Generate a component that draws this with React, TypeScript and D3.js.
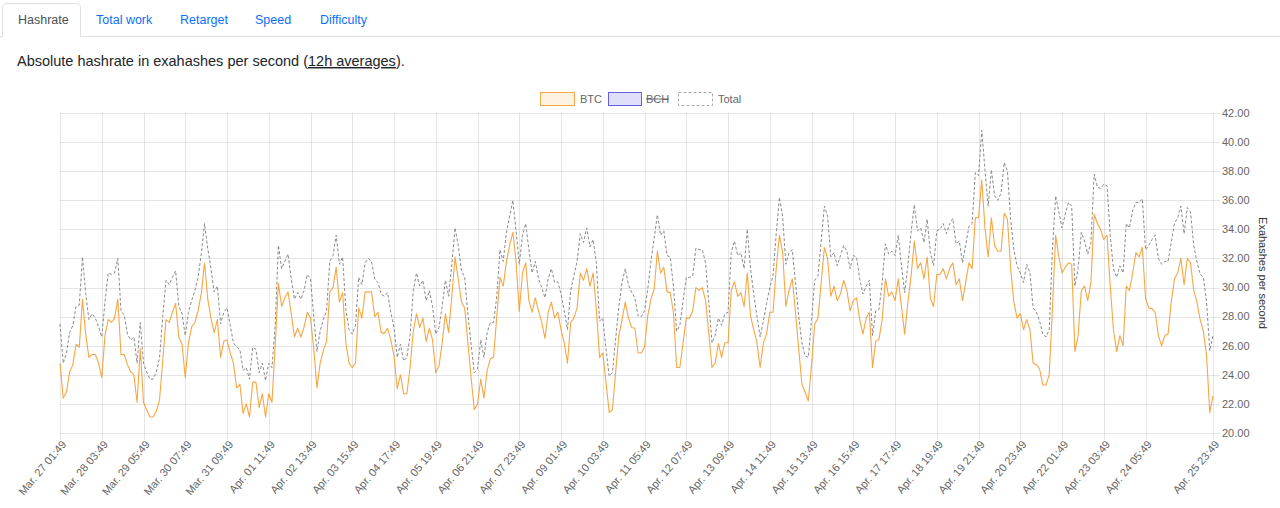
import * as d3 from 'd3';

// 12h averaged hashrate, one value every 2 hours (EH/s)
const btc = [
  24.8, 22.4, 22.8, 24.2, 24.7, 26.1, 25.9, 29.2, 26.8, 25.2, 25.4, 25.4, 24.8, 23.8, 26.7, 27.8, 27.6, 27.9, 29.2, 25.4, 25.4, 24.7, 24.2, 24.0, 22.1, 25.8, 22.1, 21.6, 21.1, 21.1, 21.5, 22.3,
  25.0, 27.8, 27.6, 28.3, 28.9, 26.6, 26.1, 23.8, 26.2, 27.3, 27.6, 28.4, 29.6, 31.7, 29.2, 27.9, 26.9, 27.8, 25.2, 26.3, 26.4, 25.5, 24.8, 23.1, 23.35, 21.35, 22.0, 21.1, 23.5, 23.5, 21.75, 22.7,
  21.1, 22.7, 22.1, 26.0, 30.3, 28.7, 29.3, 29.7, 28.2, 26.6, 27.2, 26.6, 27.3, 28.3, 27.9, 25.8, 23.1, 24.8, 25.7, 26.3, 29.7, 30.0, 31.4, 29.0, 29.65, 26.2, 24.8, 24.5, 24.8, 28.6, 27.9, 29.7, 29.7,
  29.7, 28.0, 28.3, 26.9, 26.85, 27.2, 26.4, 25.3, 23.05, 24.0, 22.7, 22.7, 24.5, 27.0, 28.2, 27.25, 27.9, 26.3, 27.2, 26.4, 24.15, 24.6, 26.2, 28.2, 26.9, 29.4, 32.1, 30.6, 29.0, 28.6, 26.2, 23.8, 21.6,
  22.0, 23.7, 22.4, 24.3, 25.1, 25.2, 28.05, 30.7, 30.1, 31.8, 32.9, 33.8, 31.8, 28.35, 31.0, 31.7, 29.1, 28.3, 29.3, 28.4, 27.6, 26.5, 28.3, 29.0, 27.9, 28.3, 27.1, 26.2, 24.8, 27.6, 27.9, 28.6,
  31.0, 30.5, 31.3, 30.1, 31.0, 28.5, 25.2, 25.5, 23.5, 21.4, 21.6, 24.15, 26.7, 27.8, 29.0, 27.9, 27.25, 27.2, 25.5, 25.5, 25.9, 28.05, 29.2, 29.9, 32.5, 31.0, 31.4, 29.7, 29.65, 28.3, 24.5, 24.5, 26.2,
  27.9, 27.9, 28.4, 30.0, 29.8, 30.0, 29.1, 26.9, 24.5, 24.8, 26.15, 25.2, 26.2, 26.2, 29.8, 30.4, 29.4, 29.65, 28.7, 31.0, 28.05, 27.1, 26.2, 24.5, 26.2, 26.8, 28.3, 28.3, 31.3, 33.6, 32.4, 28.7, 29.8,
  30.6, 28.3, 25.8, 23.35, 22.8, 22.2, 24.7, 27.5, 27.9, 30.35, 32.75, 32.0, 29.4, 30.1, 29.1, 29.55, 30.5, 29.8, 28.4, 29.1, 29.3, 27.8, 26.8, 27.9, 28.3, 24.5, 26.3, 26.45, 27.8, 30.6, 29.4, 29.7, 29.1,
  30.6, 28.7, 26.8, 29.0, 30.8, 33.2, 31.3, 31.7, 30.6, 32.1, 29.25, 28.7, 30.9, 30.9, 31.3, 30.6, 31.3, 31.7, 30.2, 30.6, 29.1, 30.35, 31.7, 31.3, 34.8, 34.8, 37.4, 34.1, 32.1, 34.8, 32.9, 32.5,
  32.5, 35.1, 34.7, 31.3, 29.0, 27.9, 28.2, 27.1, 27.8, 27.1, 24.8, 24.7, 24.4, 23.3, 23.3, 24.0, 28.5, 33.6, 32.1, 31.0, 31.4, 31.7, 31.6, 25.6, 26.7, 29.8, 30.1, 29.1, 30.35, 35.05, 34.4, 34.0, 33.3, 33.6,
  30.1, 27.1, 25.6, 26.7, 26.0, 30.1, 29.8, 31.0, 32.4, 32.1, 32.75, 29.25, 28.6, 28.55, 28.3, 26.7, 26.0, 26.7, 26.8, 29.0, 30.6, 31.0, 32.0, 30.2, 32.0, 31.7, 29.8, 29.0, 27.8, 27.0, 25.3, 21.4, 22.55,
];

const total = [
  27.5, 24.8, 25.5, 26.9, 27.4, 28.7, 28.8, 32.1, 29.6, 27.8, 28.2, 27.9, 27.3, 26.6, 29.0, 31.0, 30.9, 31.0, 32.0, 28.4, 28.1, 26.8, 26.4, 26.6, 24.8, 27.6, 24.8, 24.2, 23.7, 23.7, 24.2, 25.2,
  28.0, 30.5, 30.2, 30.7, 31.15, 28.7, 28.2, 26.7, 28.3, 29.1, 29.8, 30.7, 32.3, 34.4, 32.7, 31.3, 29.7, 30.1, 27.5, 28.3, 28.6, 27.4, 26.2, 25.9, 25.75, 24.3, 24.5, 23.7, 25.9, 25.75, 24.15, 24.8,
  23.6, 24.8, 24.5, 27.4, 32.9, 31.3, 31.8, 32.3, 30.6, 29.2, 29.65, 29.2, 29.8, 30.9, 30.6, 28.05, 25.6, 27.0, 27.8, 28.4, 31.8, 32.2, 33.6, 31.6, 32.1, 28.5, 27.1, 26.8, 27.4, 30.7, 30.2, 31.7, 32.0,
  31.8, 30.6, 30.35, 29.55, 29.4, 29.65, 28.3, 27.25, 25.2, 26.1, 24.95, 25.2, 26.7, 29.8, 31.0, 30.1, 30.5, 29.1, 29.8, 28.7, 26.8, 27.25, 28.7, 30.5, 29.4, 31.6, 34.1, 32.9, 31.15, 30.7, 28.2, 26.1, 24.15,
  24.4, 26.4, 25.2, 26.9, 27.6, 27.6, 29.4, 32.6, 31.8, 33.8, 34.9, 36.0, 33.9, 31.6, 33.6, 34.4, 32.6, 31.0, 31.8, 30.6, 30.0, 29.3, 30.6, 31.3, 30.35, 30.4, 29.55, 28.4, 27.1, 29.8, 30.8, 31.8,
  33.7, 33.1, 34.1, 32.8, 33.3, 31.7, 27.7, 27.9, 25.8, 23.9, 24.15, 26.45, 28.7, 30.35, 31.3, 30.2, 29.65, 29.3, 28.05, 28.0, 28.4, 29.9, 31.8, 33.4, 35.0, 33.6, 33.9, 32.2, 32.1, 30.1, 27.0, 27.4, 29.1,
  30.7, 30.7, 30.8, 32.7, 32.6, 32.6, 31.7, 29.0, 26.2, 26.7, 27.9, 27.4, 28.2, 28.3, 32.4, 33.2, 32.2, 32.4, 31.3, 34.0, 31.3, 29.55, 28.05, 26.6, 27.7, 28.9, 30.0, 30.8, 33.7, 36.2, 34.9, 31.6, 32.4,
  32.6, 30.35, 28.05, 26.2, 25.3, 25.2, 27.8, 30.5, 30.8, 33.2, 35.6, 34.9, 32.1, 32.4, 31.5, 32.2, 32.9, 32.5, 31.3, 32.2, 32.1, 30.6, 29.55, 30.1, 30.5, 26.7, 28.4, 28.5, 30.35, 33.0, 32.3, 32.5, 32.2,
  33.6, 31.5, 29.65, 31.5, 33.8, 35.7, 33.9, 34.1, 33.1, 34.7, 32.4, 31.5, 33.9, 34.0, 34.4, 33.7, 34.4, 34.75, 33.0, 33.2, 31.7, 32.9, 34.2, 34.4, 37.9, 37.7, 40.8, 38.1, 35.6, 38.1, 36.3, 36.0,
  36.5, 38.6, 38.0, 34.7, 32.6, 31.5, 31.0, 30.35, 31.6, 31.0, 28.6, 28.3, 27.7, 26.8, 26.6, 27.1, 32.6, 36.3, 35.2, 34.1, 35.05, 35.85, 35.6, 30.1, 31.3, 33.8, 33.2, 32.3, 33.1, 37.8, 36.9, 36.8, 37.1, 37.0,
  33.6, 31.3, 30.7, 31.5, 31.0, 34.4, 34.1, 35.3, 35.85, 35.85, 36.1, 32.6, 32.9, 33.3, 33.6, 32.0, 31.6, 31.8, 31.8, 33.1, 34.4, 34.8, 35.6, 33.7, 35.5, 35.2, 32.9, 31.8, 30.9, 30.7, 29.0, 25.65, 26.7,
];

const xTickLabels = [
  'Mar. 27 01:49', 'Mar. 28 03:49', 'Mar. 29 05:49', 'Mar. 30 07:49', 'Mar. 31 09:49',
  'Apr. 01 11:49', 'Apr. 02 13:49', 'Apr. 03 15:49', 'Apr. 04 17:49', 'Apr. 05 19:49',
  'Apr. 06 21:49', 'Apr. 07 23:49', 'Apr. 09 01:49', 'Apr. 10 03:49', 'Apr. 11 05:49',
  'Apr. 12 07:49', 'Apr. 13 09:49', 'Apr. 14 11:49', 'Apr. 15 13:49', 'Apr. 16 15:49',
  'Apr. 17 17:49', 'Apr. 18 19:49', 'Apr. 19 21:49', 'Apr. 20 23:49', 'Apr. 22 01:49',
  'Apr. 23 03:49', 'Apr. 24 05:49', 'Apr. 25 23:49',
];
const yTicks = [20, 22, 24, 26, 28, 30, 32, 34, 36, 38, 40, 42];
const tabs = ['Hashrate', 'Total work', 'Retarget', 'Speed', 'Difficulty'];
const tabX = [18, 96, 180, 255, 320];

const plot = { left: 60, right: 1213, top: 113, bottom: 433 };
const font = 'Arial, "Liberation Sans", Helvetica, sans-serif';
const parse = d3.utcParse('%Y %b. %d %H:%M');
const tickDates = xTickLabels.map((l) => parse('2023 ' + l) as Date);
const t0 = tickDates[0];
const stepMs = 2 * 3600 * 1000;
const timeAt = (i: number) => new Date(t0.getTime() + i * stepMs);

export default function App() {
  const x = d3
    .scaleUtc()
    .domain([t0, tickDates[tickDates.length - 1]])
    .range([plot.left, plot.right]);
  const y = d3.scaleLinear().domain([20, 42]).range([plot.bottom, plot.top]);
  const line = d3
    .line<number>()
    .x((_, i) => x(timeAt(i)))
    .y((d) => y(d));
  const fmt = d3.format('.2f');

  return (
    <svg
      width={1280}
      height={508}
      style={{ position: 'absolute', left: 0, top: 0, fontFamily: font }}
    >
      <rect width={1280} height={508} fill="#fff" />
      {/* tabs */}
      <line x1={0} x2={1280} y1={36.5} y2={36.5} stroke="#dee2e6" />
      <path
        d="M2.5,37 V8 Q2.5,3.5 7,3.5 H76 Q80.5,3.5 80.5,8 V37"
        fill="#fff"
        stroke="#dee2e6"
      />
      <rect x={3} y={36} width={77} height={2} fill="#fff" />
      {tabs.map((t, i) => (
        <text
          key={t}
          x={tabX[i]}
          y={24}
          fontSize={12.5}
          fill={i === 0 ? '#495057' : '#0d6efd'}
        >
          {t}
        </text>
      ))}
      <text x={17} y={66} fontSize={14.5} fill="#212529">
        Absolute hashrate in exahashes per second (
        <tspan textDecoration="underline">12h averages</tspan>).
      </text>

      {/* legend */}
      <g fontSize={11} fill="#666">
        <rect x={540.5} y={92.5} width={34} height={13} fill="rgba(247,147,26,0.12)" stroke="#f7a84a" />
        <text x={580} y={103}>BTC</text>
        <rect x={608.5} y={92.5} width={33} height={13} fill="rgba(80,80,230,0.18)" stroke="#6060e0" />
        <text x={646} y={103}>BCH</text>
        <line x1={646} x2={669} y1={99} y2={99} stroke="#666" />
        <rect x={678.5} y={92.5} width={34} height={13} fill="none" stroke="#aaa" strokeDasharray="3,2" />
        <text x={718} y={103}>Total</text>
      </g>

      {/* grid */}
      <g stroke="rgba(0,0,0,0.1)" shapeRendering="crispEdges">
        {yTicks.map((v) => (
          <line key={v} x1={plot.left} x2={plot.right + 7} y1={Math.round(y(v)) + 0.5} y2={Math.round(y(v)) + 0.5} />
        ))}
        {tickDates.map((d, i) => (
          <line key={i} x1={Math.round(x(d)) + 0.5} x2={Math.round(x(d)) + 0.5} y1={plot.top} y2={plot.bottom + 7} />
        ))}
      </g>

      {/* series */}
      <path d={line(total) ?? ''} fill="none" stroke="#8a8a8a" strokeWidth={1} strokeDasharray="3,2" />
      <path d={line(btc) ?? ''} fill="none" stroke="rgba(247,147,26,0.82)" strokeWidth={1.1} strokeLinejoin="round" />

      {/* y axis on the right */}
      <g fontSize={11} fill="#666">
        {yTicks.map((v) => (
          <text key={v} x={plot.right + 9} y={y(v)} dy="0.35em">
            {fmt(v)}
          </text>
        ))}
      </g>
      <text
        transform={`translate(1259,${(plot.top + plot.bottom) / 2}) rotate(90)`}
        textAnchor="middle"
        fontSize={11}
        fill="#333"
      >
        Exahashes per second
      </text>

      {/* x axis labels */}
      <g fontSize={11} fill="#666">
        {tickDates.map((d, i) => (
          <text
            key={i}
            transform={`translate(${x(d) + 4},${plot.bottom + 9}) rotate(-50)`}
            textAnchor="end"
            dy="0.35em"
          >
            {xTickLabels[i]}
          </text>
        ))}
      </g>
    </svg>
  );
}
